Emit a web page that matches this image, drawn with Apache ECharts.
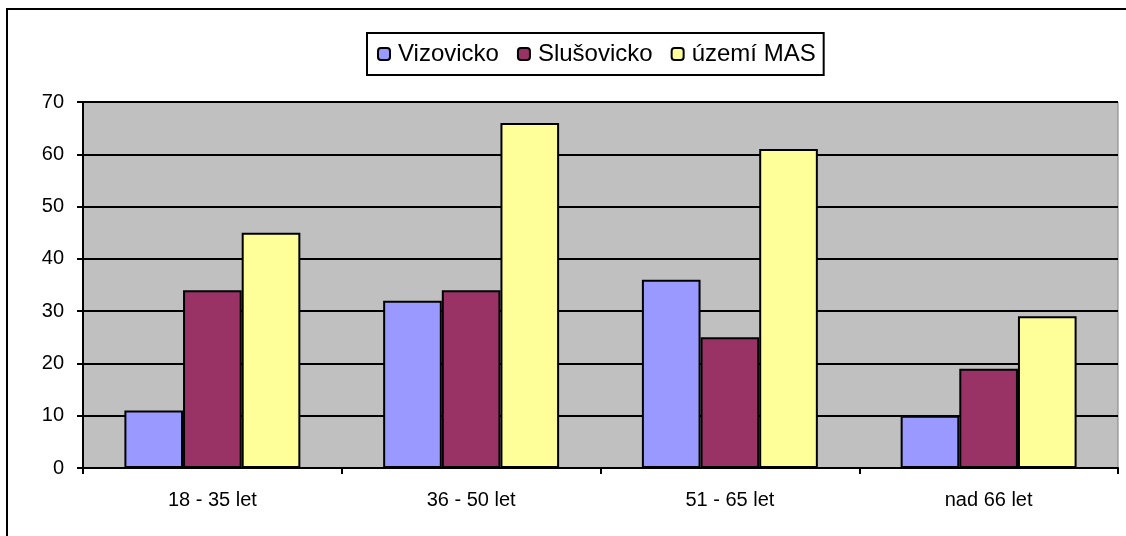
<!DOCTYPE html>
<html>
<head>
<meta charset="utf-8">
<script src="https://cdn.jsdelivr.net/npm/echarts@6/dist/echarts.min.js"></script>
<style>
  html, body { margin: 0; padding: 0; background: #fff; }
  #frame { position: absolute; left: 6px; top: 8px; width: 1126px; height: 536px;
           border-left: 2px solid #000; border-top: 2px solid #000; }
  #chart { position: absolute; left: 0; top: 0; width: 1126px; height: 536px; }
</style>
</head>
<body>
<div id="frame"></div>
<div id="chart"></div>
<script>
  // vekove skupiny
  var categories = ['18 - 35 let', '36 - 50 let', '51 - 65 let', 'nad 66 let'];
  var vizovicko = [11, 32, 36, 10];
  var slusovicko = [34, 34, 25, 19];
  var uzemiMas = [45, 66, 61, 29];
  var yTicks = [0, 10, 20, 30, 40, 50, 60, 70];

  var myChart = echarts.init(document.getElementById('chart'));

  function barSeries(name, data, color) {
    return {
      name: name,
      type: 'bar',
      data: data,
      barGap: '0%',
      barCategoryGap: '32%',
      itemStyle: { color: color, borderColor: '#000', borderWidth: 2 }
    };
  }

  myChart.setOption({
    animation: false,
    textStyle: { fontFamily: 'Liberation Sans, Arial, sans-serif' },
    legend: {
      left: 367,
      top: 33,
      padding: [9, 8, 9, 10],
      borderColor: '#000',
      borderWidth: 2,
      itemWidth: 12,
      itemHeight: 12,
      itemGap: 18,
      textStyle: { fontSize: 24, color: '#000', padding: [0, 0, 0, 3] },
      data: [
        { name: 'Vizovicko', itemStyle: { borderColor: '#000', borderWidth: 2 } },
        { name: 'Slušovicko', itemStyle: { borderColor: '#000', borderWidth: 2 } },
        { name: 'území MAS', itemStyle: { borderColor: '#000', borderWidth: 2 } }
      ]
    },
    grid: {
      left: 83, right: 8, top: 102, bottom: 68,
      show: true,
      backgroundColor: '#C0C0C0',
      borderColor: '#808080',
      borderWidth: 1
    },
    xAxis: {
      type: 'category',
      data: categories,
      axisLine: { lineStyle: { color: '#000', width: 2 } },
      axisTick: { show: true, length: 6, lineStyle: { color: '#000', width: 2 } },
      axisLabel: { fontSize: 20, color: '#000', margin: 22 }
    },
    yAxis: {
      type: 'value',
      min: yTicks[0],
      max: yTicks[yTicks.length - 1],
      interval: 10,
      axisLine: { show: true, lineStyle: { color: '#000', width: 2 } },
      axisTick: { show: true, length: 6, lineStyle: { color: '#000', width: 2 } },
      axisLabel: { fontSize: 20, color: '#000', margin: 19 },
      splitLine: { lineStyle: { color: '#000', width: 2 } }
    },
    series: [
      barSeries('Vizovicko', vizovicko, '#9999FF'),
      barSeries('Slušovicko', slusovicko, '#993366'),
      barSeries('území MAS', uzemiMas, '#FFFF99')
    ]
  });
</script>
</body>
</html>
